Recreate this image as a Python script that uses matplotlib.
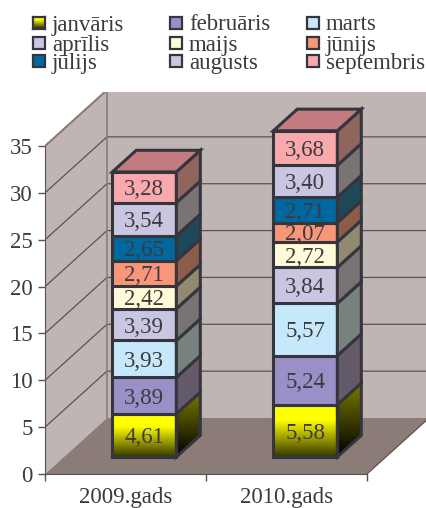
import numpy as np
import matplotlib
matplotlib.use('Agg')
import matplotlib.pyplot as plt
from matplotlib.colors import LinearSegmentedColormap, to_rgb
from matplotlib.patches import Polygon, Rectangle

plt.rcParams['font.family'] = ['Liberation Serif', 'DejaVu Serif']

YEARS = ['2009.gads', '2010.gads']
MONTHS = ['janvāris', 'februāris', 'marts', 'aprīlis', 'maijs', 'jūnijs',
          'jūlijs', 'augusts', 'septembris']
VALUES_2009 = [4.61, 3.89, 3.93, 3.39, 2.42, 2.71, 2.65, 3.54, 3.28]
VALUES_2010 = [5.58, 5.24, 5.57, 3.84, 2.72, 2.07, 2.71, 3.40, 3.68]
COLORS = ['#ffff00', '#9a8fc6', '#c5e9fa', '#c9c6e2', '#fffbd8', '#f8967a',
          '#00689f', '#c9c6e2', '#f9a8ac']
YTICKS = [0, 5, 10, 15, 20, 25, 30, 35]

WALL = '#bfb5b2'
FLOOR = '#8c7c78'
GRID = '#5c5250'
EDGE = '#35353d'
TEXT = '#3c3a40'
FS = 16.5

# pixel layout of the reference -> data units
W, H = 426, 508
PX_X = 161.0     # px per category
PX_Y = 9.371     # px per value unit
DX = 62 / PX_X   # full depth of the box
DY = 56 / PX_Y
D0, D1 = 0.304, 0.69   # bar depth range inside the box
BAR_W = 64 / PX_X
BAR_SHIFT = 0.5


def side_shade(color):
    # the side faces go warm grey rather than just darker
    r, g, b = to_rgb(color)
    return (0.12 + 0.45 * r, 0.10 + 0.45 * g, 0.10 + 0.40 * b)


def top_shade(color):
    r, g, b = to_rgb(color)
    return (0.78 * r, 0.74 * g, 0.74 * b)


def yellow_cmap(top, bottom):
    return LinearSegmentedColormap.from_list('g', [(0, bottom), (0.7, top), (1, top)])


def gradient(ax, poly, cmap):
    xy = poly.get_xy()
    im = ax.imshow(np.linspace(1, 0, 64)[:, None], cmap=cmap, aspect='auto', vmin=0, vmax=1,
                   extent=(xy[:, 0].min(), xy[:, 0].max(), xy[:, 1].min(), xy[:, 1].max()),
                   zorder=poly.get_zorder() - 0.01)
    im.set_clip_path(poly)


def draw_box(ax):
    x1, y1 = 2 + DX, 35 + DY
    ax.add_patch(Polygon([(DX, DY), (x1, DY), (x1, y1), (DX, y1)], fc=WALL, ec='none', zorder=1))
    ax.add_patch(Polygon([(0, 0), (DX, DY), (DX, y1), (0, 35)], fc=WALL, ec='none', zorder=1))
    ax.add_patch(Polygon([(0, 0), (2, 0), (x1, DY), (DX, DY)], fc=FLOOR, ec='none', zorder=1))
    for t in YTICKS[1:]:
        ax.plot([0, DX, x1], [t, t + DY, t + DY], color=GRID, lw=0.9, zorder=2)
    ax.plot([DX, DX], [DY, y1], color='#8c7c78', lw=1.2, zorder=2)
    ax.plot([0, DX, x1], [35, y1, y1], color='#8c7c78', lw=1.4, zorder=2)
    ax.plot([2, x1], [0, DY], color=GRID, lw=0.9, zorder=2)


def draw_bar(ax, pos, values):
    left = pos + BAR_SHIFT - BAR_W / 2 + D0 * DX
    right = left + BAR_W
    base = D0 * DY
    ddx, ddy = (D1 - D0) * DX, (D1 - D0) * DY
    bottom = base
    for i, (v, col) in enumerate(zip(values, COLORS)):
        top = bottom + v
        z = 5 + i
        front = Polygon([(left, bottom), (right, bottom), (right, top), (left, top)],
                        ec=EDGE, lw=2.2, zorder=z, joinstyle='miter')
        side = Polygon([(right, bottom), (right + ddx, bottom + ddy),
                        (right + ddx, top + ddy), (right, top)],
                       ec=EDGE, lw=2.2, zorder=z, joinstyle='miter')
        if i == 0:
            front.set_facecolor('none')
            side.set_facecolor('none')
            ax.add_patch(front)
            ax.add_patch(side)
            gradient(ax, front, yellow_cmap(col, '#383800'))
            gradient(ax, side, LinearSegmentedColormap.from_list('s', ['#000000', '#7a7a00']))
        else:
            front.set_facecolor(col)
            side.set_facecolor(side_shade(col))
            ax.add_patch(front)
            ax.add_patch(side)
        ax.text((left + right) / 2, (bottom + top) / 2, f'{v:.2f}'.replace('.', ','),
                ha='center', va='center_baseline', fontsize=FS, color=TEXT, zorder=30)
        bottom = top
    ax.add_patch(Polygon([(left, bottom), (right, bottom),
                          (right + ddx, bottom + ddy), (left + ddx, bottom + ddy)],
                         fc=top_shade(COLORS[-1]), ec=EDGE, lw=2.2, zorder=20, joinstyle='miter'))


def draw_legend(fig):
    xs = [33, 170, 307]
    ys = [22.5, 43, 60.5]
    for i, (name, col) in enumerate(zip(MONTHS, COLORS)):
        x, y = xs[i % 3], ys[i // 3]
        if i == 0:
            cax = fig.add_axes([x / W, 1 - (y + 6) / H, 12 / W, 12 / H])
            cax.imshow(np.linspace(1, 0, 32)[:, None], cmap=yellow_cmap(col, '#383800'), aspect='auto')
            cax.set_xticks([])
            cax.set_yticks([])
            for s in cax.spines.values():
                s.set_color(EDGE)
                s.set_linewidth(1.6)
        else:
            fig.add_artist(Rectangle((x / W, 1 - (y + 6) / H), 12 / W, 12 / H,
                                     transform=fig.transFigure, fc=col, ec=EDGE, lw=1.6))
        fig.text((x + 19) / W, 1 - y / H, name, ha='left', va='center_baseline',
                 fontsize=FS, color=TEXT)


def main():
    fig = plt.figure(figsize=(W / 100, H / 100), dpi=100)
    ax = fig.add_axes([45 / W, 34 / H, (W - 45) / W, 382 / H])
    ax.patch.set_visible(False)
    draw_box(ax)
    draw_bar(ax, 0, VALUES_2009)
    draw_bar(ax, 1, VALUES_2010)

    ax.set_xlim(0, (W - 45) / PX_X)
    ax.set_ylim(0, 382 / PX_Y)
    ax.set_yticks(YTICKS)
    ax.set_xticks([0, 1, 2])
    ax.set_xticklabels([])
    ax.set_xticks([0.5, 1.5], YEARS, minor=True)
    ax.tick_params(axis='x', which='minor', length=0, pad=9, labelsize=FS, labelcolor=TEXT)
    ax.tick_params(axis='x', which='major', length=5, width=1, color=GRID)
    ax.tick_params(axis='y', length=5, width=1, color=GRID, pad=4, labelsize=FS, labelcolor=TEXT)
    for s in ('top', 'right'):
        ax.spines[s].set_visible(False)
    ax.spines['left'].set_bounds(0, 35)
    ax.spines['bottom'].set_bounds(0, 2)
    ax.spines['left'].set_color(GRID)
    ax.spines['bottom'].set_color(GRID)

    draw_legend(fig)
    fig.savefig('out.png', dpi=100)


if __name__ == '__main__':
    main()
